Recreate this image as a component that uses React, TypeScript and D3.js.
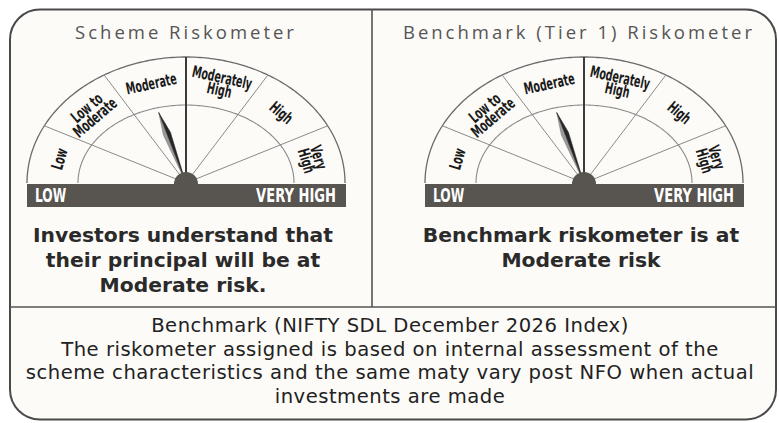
import React from "react";
import * as d3 from "d3";

const W = 779;
const H = 423;

const segmentLabels: string[][] = [
  ["Low"],
  ["Low to", "Moderate"],
  ["Moderate"],
  ["Moderately", "High"],
  ["High"],
  ["Very", "High"],
];
// dial angle (degrees, 180 = left) of each risk boundary 0..6
const segmentEdges = [180, 153, 121, 90, 59, 27, 0];
const riskLevels = [0, 1, 2, 3, 4, 5, 6];

const gaugeTitles = ["Scheme Riskometer", "Benchmark (Tier 1) Riskometer"];
const gaugeRisk = [2.45, 2.45];
const gaugeCaptions = [
  ["Investors understand that", "their principal will be at", "Moderate risk."],
  ["Benchmark riskometer is at", "Moderate risk"],
];
const barLabels = ["LOW", "VERY HIGH"];
const footnoteLines = [
  "Benchmark (NIFTY SDL December 2026 Index)",
  "The riskometer assigned is based on internal assessment of the",
  "scheme characteristics and the same maty vary post NFO when actual",
  "investments are made",
];

const angleScale = d3.scaleLinear().domain(riskLevels).range(segmentEdges);
const rad = (deg: number) => (deg * Math.PI) / 180;

const OUTER = { rx: 159, ry: 126 };
const INNER = { rx: 108, ry: 78 };

function ePoint(cx: number, cy: number, rx: number, ry: number, deg: number): [number, number] {
  return [cx + rx * Math.cos(rad(deg)), cy - ry * Math.sin(rad(deg))];
}

function arcPath(cx: number, cy: number, rx: number, ry: number) {
  const pts = d3.range(0, 180.5, 1).map((a) => ePoint(cx, cy, rx, ry, a));
  return d3.line()(pts) || "";
}

const labelFont = "'DejaVu Sans', sans-serif";
const titleFont = "'Open Sans', 'Noto Sans', sans-serif";
const bodyFont = "'DejaVu Sans', 'Noto Sans', sans-serif";

function Gauge({ cx, cy, risk }: { cx: number; cy: number; risk: number }) {
  const barTop = cy + 1;
  const barH = 23;
  const barLeft = cx - OUTER.rx;
  const barRight = cx + OUTER.rx + 1;

  const needleAngle = angleScale(risk);
  const dir = ePoint(0, 0, OUTER.rx * 0.585, OUTER.ry * 0.585, needleAngle);
  const len = Math.hypot(dir[0], dir[1]);
  const ux = dir[0] / len;
  const uy = dir[1] / len;
  const px = -uy;
  const py = ux;
  const tip: [number, number] = [cx + dir[0], cy + dir[1]];
  const wideAt = 0.7;
  const halfW = 3.8;
  const mid: [number, number] = [cx + dir[0] * wideAt, cy + dir[1] * wideAt];
  const base: [number, number] = [cx + ux * 2, cy + uy * 2];
  const leftP: [number, number] = [mid[0] - px * halfW, mid[1] - py * halfW];
  const rightP: [number, number] = [mid[0] + px * halfW, mid[1] + py * halfW];
  const poly = (pts: [number, number][]) => pts.map((p) => p.join(",")).join(" ");

  return (
    <g>
      <path d={arcPath(cx, cy, OUTER.rx, OUTER.ry)} fill="none" stroke="#6b6b6b" strokeWidth={1.3} />
      <path d={arcPath(cx, cy, INNER.rx, INNER.ry)} fill="none" stroke="#8a8a8a" strokeWidth={1.1} />
      {segmentEdges.slice(1, -1).map((a, i) => {
        const [x2, y2] = ePoint(cx, cy, OUTER.rx, OUTER.ry, a);
        const main = a === 90;
        return (
          <line
            key={i}
            x1={cx}
            y1={cy}
            x2={x2}
            y2={y2}
            stroke={main ? "#3a3a3a" : "#8a8a8a"}
            strokeWidth={main ? 2 : 1}
          />
        );
      })}
      {segmentLabels.map((lines, i) => {
        const a = (angleScale(riskLevels[i]) + angleScale(riskLevels[i + 1])) / 2;
        const [x, y] = ePoint(cx, cy, OUTER.rx * 0.82, OUTER.ry * 0.82, a);
        const t = rad(a);
        const rot = (Math.atan2(OUTER.ry * Math.cos(t), OUTER.rx * Math.sin(t)) * 180) / Math.PI;
        const lh = 11;
        const off = ((lines.length - 1) * lh) / 2;
        return (
          <g key={i} transform={`translate(${x},${y}) rotate(${rot}) scale(0.68,1.15)`}>
            {lines.map((s, j) => (
              <text
                key={j}
                x={0}
                y={-off + j * lh}
                dy="0.36em"
                textAnchor="middle"
                fontFamily={labelFont}
                fontWeight="bold"
                fontSize={14}
                fill="#1a1a1a"
              >
                {s}
              </text>
            ))}
          </g>
        );
      })}
      <polygon points={poly([tip, leftP, base])} fill="#9a9a9a" stroke="#777" strokeWidth={0.5} />
      <polygon points={poly([tip, rightP, base])} fill="#262626" stroke="#262626" strokeWidth={0.5} />
      <path d={`M${cx - 12},${cy + 1} A12,12 0 0 1 ${cx + 12},${cy + 1} Z`} fill="#58544f" />
      <rect x={barLeft} y={barTop} width={barRight - barLeft} height={barH} fill="#58544f" />
      <g transform={`translate(${barLeft + 8},${barTop + barH / 2}) scale(0.72,1.1)`}>
        <text x={0} y={0} dy="0.36em" fontFamily={labelFont} fontWeight="bold" fontSize={17} fill="#ffffff">
          {barLabels[0]}
        </text>
      </g>
      <g transform={`translate(${barRight - 10},${barTop + barH / 2}) scale(0.77,1.1)`}>
        <text
          x={0}
          y={0}
          dy="0.36em"
          textAnchor="end"
          fontFamily={labelFont}
          fontWeight="bold"
          fontSize={17}
          fill="#ffffff"
        >
          {barLabels[1]}
        </text>
      </g>
    </g>
  );
}

export default function App() {
  const centers = [186, 584];
  const cy = 183;
  const titleCenters = [186, 579];
  const captionCenters = [183, 581];
  return (
    <svg
      width={W}
      height={H}
      viewBox={`0 0 ${W} ${H}`}
      style={{ position: "absolute", left: 0, top: 0, background: "#ffffff" }}
    >
      <rect x={10} y={9.5} width={766} height={410} rx={30} ry={30} fill="#fcfbf8" stroke="#4a4a4a" strokeWidth={2} />
      <line x1={372} y1={9.5} x2={372} y2={307} stroke="#555" strokeWidth={1.6} />
      <line x1={10} y1={307} x2={776} y2={307} stroke="#555" strokeWidth={1.6} />
      {gaugeTitles.map((t, i) => (
        <text
          key={t}
          x={titleCenters[i]}
          y={39}
          textAnchor="middle"
          fontFamily={titleFont}
          fontSize={18.5}
          letterSpacing={3}
          fill="#555"
        >
          {t}
        </text>
      ))}
      {centers.map((c, i) => (
        <Gauge key={i} cx={c} cy={cy} risk={gaugeRisk[i]} />
      ))}
      {gaugeCaptions.map((lines, i) =>
        lines.map((s, j) => (
          <text
            key={`${i}-${j}`}
            x={captionCenters[i]}
            y={242 + j * 25}
            textAnchor="middle"
            fontFamily={bodyFont}
            fontWeight="bold"
            fontSize={20.3}
            fill="#2a2a2a"
          >
            {s}
          </text>
        ))
      )}
      {footnoteLines.map((s, j) => (
        <text
          key={j}
          x={390}
          y={332 + j * 23.7}
          textAnchor="middle"
          fontFamily={bodyFont}
          fontSize={19.6}
          letterSpacing={0.5}
          fill="#222"
        >
          {s}
        </text>
      ))}
    </svg>
  );
}
